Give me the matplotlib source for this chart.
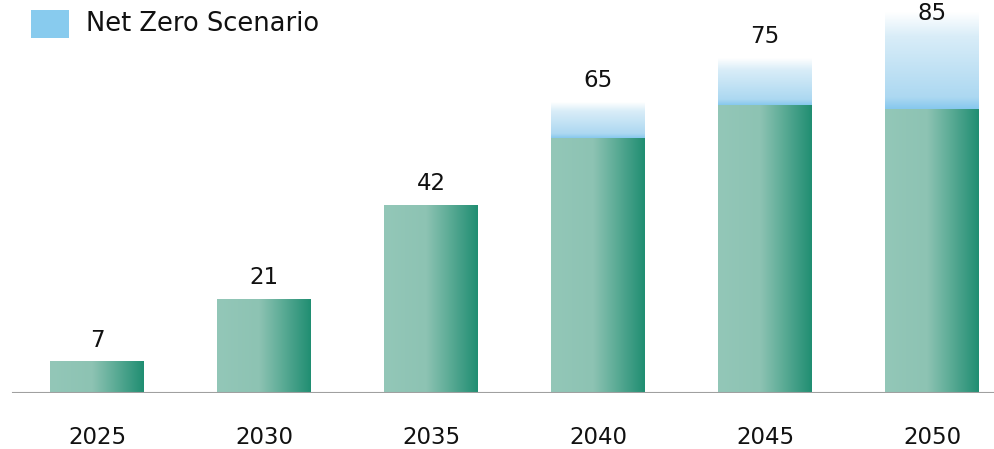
import numpy as np
import matplotlib
matplotlib.use('Agg')
import matplotlib.pyplot as plt
from matplotlib.colors import LinearSegmentedColormap
from matplotlib.patches import Rectangle

years = ['2025', '2030', '2035', '2040', '2045', '2050']
base = [7, 21, 42, 57, 64.5, 63.5]          # green part of each bar
net_zero = [7, 21, 42, 65, 75, 85]         # total under Net Zero Scenario

green = LinearSegmentedColormap.from_list('g', [(0, '#93c7b8'), (0.45, '#8dc3b3'), (1, '#208e72')])
blue = LinearSegmentedColormap.from_list('b', [(0, '#86c8ee'), (0.12, '#acd8f1'), (0.75, '#d9edf8'), (1, '#ffffff')])

plt.rcParams['font.family'] = 'DejaVu Sans'
fig = plt.figure(figsize=(9.95, 4.49), dpi=100)
ax = fig.add_axes([0, 56/449, 1, 393/449])
ax.set_xlim(-97/167, (995-97)/167)
ax.set_ylim(0, 393/4.47)

w = 94/167
hgrad = np.linspace(0, 1, 256).reshape(1, -1)
vgrad = np.linspace(0, 1, 256).reshape(-1, 1)
ymax_label = (393 - 25) / 4.47   # keep the top label inside the figure
for i in range(len(years)):
    ax.imshow(hgrad, cmap=green, extent=(i-w/2, i+w/2, 0, base[i]),
              aspect='auto', origin='lower', zorder=2)
    if net_zero[i] > base[i]:
        ax.imshow(vgrad, cmap=blue, extent=(i-w/2, i+w/2, base[i], net_zero[i]),
                  aspect='auto', origin='lower', zorder=2)
    ylab = min(net_zero[i] + 10/4.47, ymax_label)
    ax.text(i, ylab, str(net_zero[i]), ha='center', va='bottom', fontsize=16.5,
            color='#111111', clip_on=False, zorder=4)

ax.axhline(0, xmin=13/995, xmax=1, color='#a0a0a0', lw=1.5, zorder=3)
ax.set_xticks(range(len(years)))
ax.set_xticklabels(years, fontsize=16.5, color='#111111')
ax.tick_params(axis='x', length=0, pad=24)
ax.set_yticks([])
for s in ax.spines.values():
    s.set_visible(False)

# legend
fig.add_artist(Rectangle((31/995, 1-38/449), 38/995, 28/449, transform=fig.transFigure,
                         color='#88cbee', lw=0))
fig.text(86/995, 1-24/449, 'Net Zero Scenario', fontsize=18.5, va='center', ha='left', color='#111111')

fig.savefig('out.png', dpi=100)
